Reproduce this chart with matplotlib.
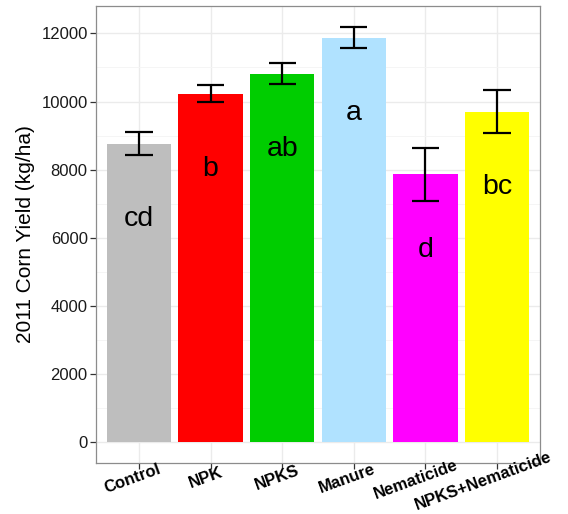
import matplotlib
matplotlib.use("Agg")
import matplotlib.pyplot as plt
import matplotlib.transforms as mtransforms
import numpy as np

plt.rcParams['font.family'] = ['Liberation Sans', 'DejaVu Sans']

categories = ["Control", "NPK", "NPKS", "Manure", "Nematicide", "NPKS+Nematicide"]
yield_mean = [8760, 10230, 10820, 11880, 7865, 9705]
yield_se = [333, 250, 318, 315, 780, 640]
letters = ["cd", "b", "ab", "a", "d", "bc"]
colors = ["#BEBEBE", "#FF0000", "#00CD00", "#B0E2FF", "#FF00FF", "#FFFF00"]
yticks = [0, 2000, 4000, 6000, 8000, 10000, 12000]
ylabel = "2011 Corn Yield (kg/ha)"

W, H = 568, 514
fig = plt.figure(figsize=(W / 100, H / 100), dpi=100)
ax = fig.add_axes([96 / W, 1 - 463 / H, 444 / W, 457 / H])

x = np.arange(len(categories)) + 1
top = max(m + s for m, s in zip(yield_mean, yield_se))
ax.set_xlim(0.4, len(categories) + 0.6)
ax.set_ylim(-0.05 * top, top * 1.05)

# grid
ax.set_axisbelow(True)
ax.set_yticks(yticks)
ax.set_yticks(np.arange(1000, 13000, 2000), minor=True)
ax.set_xticks(x)
ax.grid(which='major', color='#EBEBEB', linewidth=1.0)
ax.grid(which='minor', axis='y', color='#F4F4F4', linewidth=0.6)
ax.tick_params(axis='y', which='minor', length=0)

ax.bar(x, yield_mean, width=0.9, color=colors, edgecolor='none', zorder=2)
ax.vlines(x, np.array(yield_mean) - np.array(yield_se), np.array(yield_mean) + np.array(yield_se),
          color='black', linewidth=1.6, zorder=3)
for xi, m, s in zip(x, yield_mean, yield_se):
    ax.hlines([m - s, m + s], xi - 0.19, xi + 0.19, color='black', linewidth=1.6, zorder=3)
for xi, m, lab in zip(x, yield_mean, letters):
    ax.text(xi, m - 2420, lab, ha='center', va='baseline', fontsize=20.5, color='black', zorder=4)

for sp in ax.spines.values():
    sp.set_color('#8C8C8C')
    sp.set_linewidth(0.9)

ax.tick_params(axis='both', which='major', length=4.5, width=0.9, color='#333333', direction='out')
ax.tick_params(axis='y', labelsize=12, labelcolor='#1A1A1A', pad=1.5)
ax.set_yticklabels([str(t) for t in yticks])
ax.set_xticklabels([])

ax.set_ylabel(ylabel, fontsize=15, color='black')
ax.yaxis.set_label_coords(-0.137, 0.5)

# x labels rotated, anchored ~0.59 along text
renderer = fig.canvas.get_renderer()
base = mtransforms.blended_transform_factory(ax.transData, ax.transAxes)
ang = np.deg2rad(20)
for xi, lab in zip(x, categories):
    t = ax.text(xi, 0, lab, fontsize=12, fontweight='bold', color='black',
                ha='left', va='baseline', rotation=0, transform=base)
    w = t.get_window_extent(renderer).width
    t.remove()
    d = 0.59 * w
    off = mtransforms.Affine2D().translate(-d * np.cos(ang), -18 - d * np.sin(ang))
    ax.text(xi, 0, lab, fontsize=12, fontweight='bold', color='black',
            ha='left', va='baseline', rotation=20, rotation_mode='anchor',
            transform=base + off, clip_on=False)

fig.savefig("out.png", dpi=100)
